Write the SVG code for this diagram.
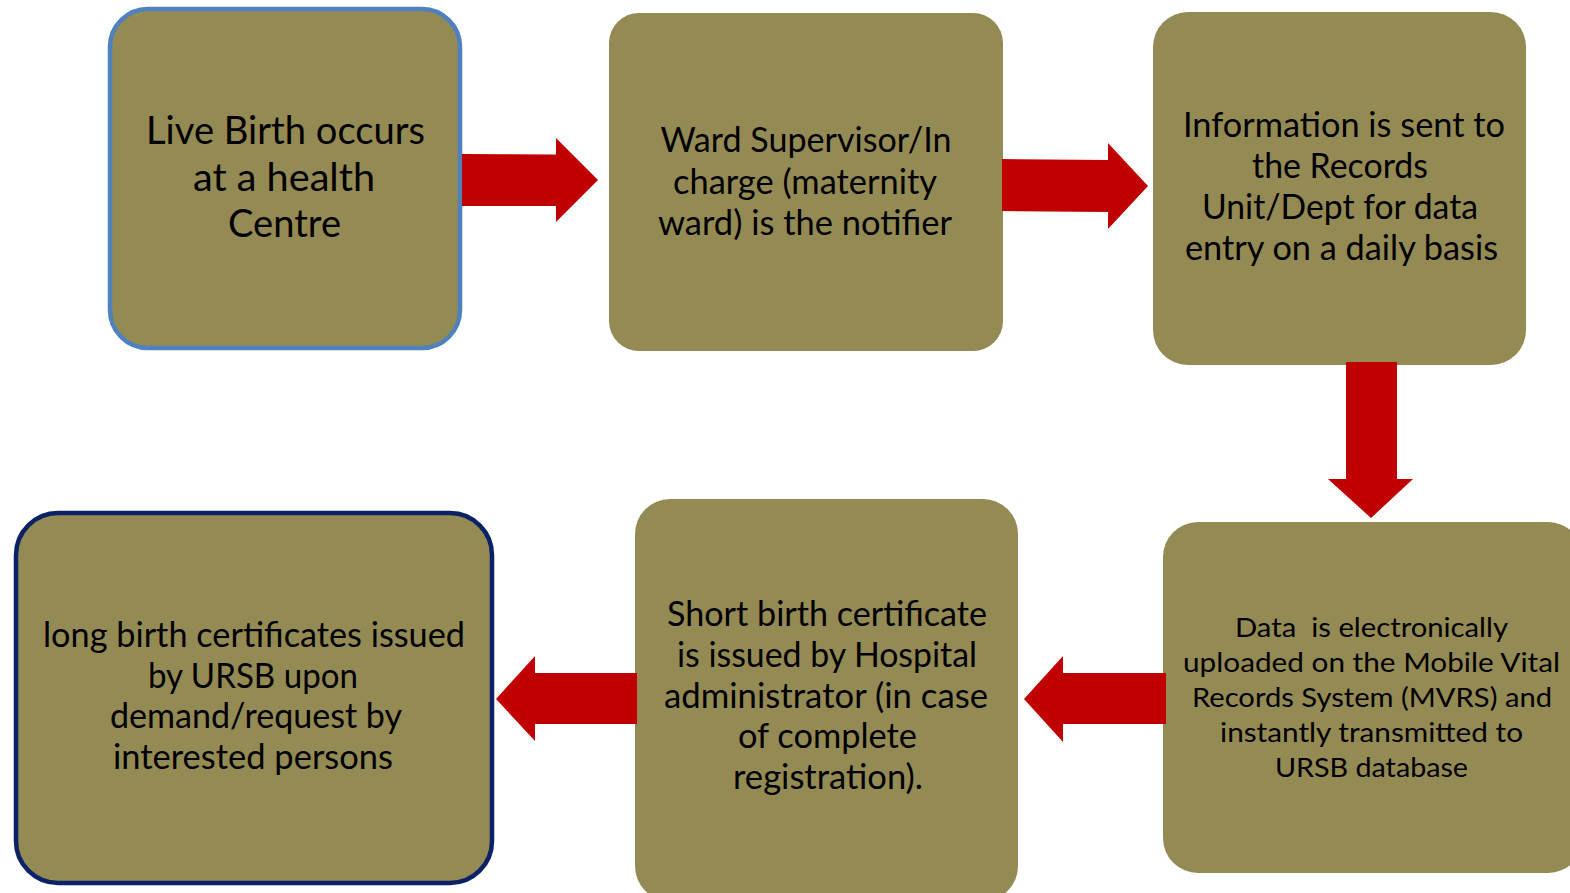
<svg xmlns="http://www.w3.org/2000/svg" width="1570" height="893" viewBox="0 0 1570 893">
<style>
.box{fill:#948A54;}
.b1{stroke:#4F81BD;stroke-width:4.5;}
.b6{stroke:#0C2266;stroke-width:4.5;}
.t{font-family:Lato,"Open Sans","Liberation Sans",sans-serif;fill:#000;text-anchor:middle;}
.f1{font-size:39px;}
.f2{font-size:34.5px;}
.f4{font-size:27.5px;}
.arrow{fill:#C00000;}
</style>
<rect width="1570" height="893" fill="#FFFFFF"/>
<g id="node-live-birth">
<rect class="box b1" x="110" y="9" width="350" height="339" rx="38"/>
<text class="t f1" x="285.5" y="144" textLength="279" lengthAdjust="spacingAndGlyphs">Live Birth occurs</text>
<text class="t f1" x="284" y="190.5" textLength="182" lengthAdjust="spacingAndGlyphs">at a health</text>
<text class="t f1" x="284.5" y="237" textLength="113" lengthAdjust="spacingAndGlyphs">Centre</text>
</g>
<g id="node-ward-supervisor">
<rect class="box" x="609" y="13" width="394" height="338" rx="30"/>
<text class="t f2" x="806" y="152" textLength="291" lengthAdjust="spacingAndGlyphs">Ward Supervisor/In</text>
<text class="t f2" x="805" y="193.5" textLength="264" lengthAdjust="spacingAndGlyphs">charge (maternity</text>
<text class="t f2" x="805" y="235" textLength="294" lengthAdjust="spacingAndGlyphs">ward) is the notifier</text>
</g>
<g id="node-records-unit">
<rect class="box" x="1153" y="12" width="373" height="353" rx="35"/>
<text class="t f2" x="1344" y="137" textLength="322" lengthAdjust="spacingAndGlyphs">Information is sent to</text>
<text class="t f2" x="1340" y="178" textLength="176" lengthAdjust="spacingAndGlyphs">the Records</text>
<text class="t f2" x="1340" y="219" textLength="276" lengthAdjust="spacingAndGlyphs">Unit/Dept for data</text>
<text class="t f2" x="1341.5" y="260" textLength="313" lengthAdjust="spacingAndGlyphs">entry on a daily basis</text>
</g>
<g id="node-mvrs">
<rect class="box" x="1163" y="522" width="420" height="351" rx="35"/>
<text class="t f4" x="1371.5" y="637" textLength="273" lengthAdjust="spacingAndGlyphs" xml:space="preserve">Data  is electronically</text>
<text class="t f4" x="1371.5" y="672" textLength="377" lengthAdjust="spacingAndGlyphs">uploaded on the Mobile Vital</text>
<text class="t f4" x="1372" y="707" textLength="360" lengthAdjust="spacingAndGlyphs">Records System (MVRS) and</text>
<text class="t f4" x="1371.5" y="742" textLength="303" lengthAdjust="spacingAndGlyphs">instantly transmitted to</text>
<text class="t f4" x="1371.5" y="777" textLength="193" lengthAdjust="spacingAndGlyphs">URSB database</text>
</g>
<g id="node-short-certificate">
<rect class="box" x="635" y="499" width="383" height="402" rx="35"/>
<text class="t f2" x="827" y="626" textLength="320" lengthAdjust="spacingAndGlyphs">Short birth certificate</text>
<text class="t f2" x="827" y="667" textLength="300" lengthAdjust="spacingAndGlyphs">is issued by Hospital</text>
<text class="t f2" x="826" y="707.5" textLength="324" lengthAdjust="spacingAndGlyphs">administrator (in case</text>
<text class="t f2" x="827.5" y="748" textLength="179" lengthAdjust="spacingAndGlyphs">of complete</text>
<text class="t f2" x="828" y="788.5" textLength="190" lengthAdjust="spacingAndGlyphs">registration).</text>
</g>
<g id="node-long-certificate">
<rect class="box b6" x="16" y="513" width="476" height="370" rx="42"/>
<text class="t f2" x="254" y="647" textLength="422" lengthAdjust="spacingAndGlyphs">long birth certificates issued</text>
<text class="t f2" x="253" y="687.5" textLength="210" lengthAdjust="spacingAndGlyphs">by URSB upon</text>
<text class="t f2" x="256" y="728" textLength="292" lengthAdjust="spacingAndGlyphs">demand/request by</text>
<text class="t f2" x="253" y="768.5" textLength="280" lengthAdjust="spacingAndGlyphs">interested persons</text>
</g>
<g id="connectors">
<polygon class="arrow" points="462,154 556,154.5 556,138 598,180 556,222 556,206 462,206"/>
<polygon class="arrow" points="1002,159 1108,160 1108,143 1148,186 1108,229 1108,212 1002,211"/>
<polygon class="arrow" points="1346,362 1397,362 1397,479 1413,479 1371,518 1328,479 1346,479"/>
<polygon class="arrow" points="1166,673 1063,673 1063,656 1024,699 1063,742 1063,724 1166,724"/>
<polygon class="arrow" points="637,673 535,673 535,656 496,699 535,741 535,724 637,724"/>
</g>
</svg>
